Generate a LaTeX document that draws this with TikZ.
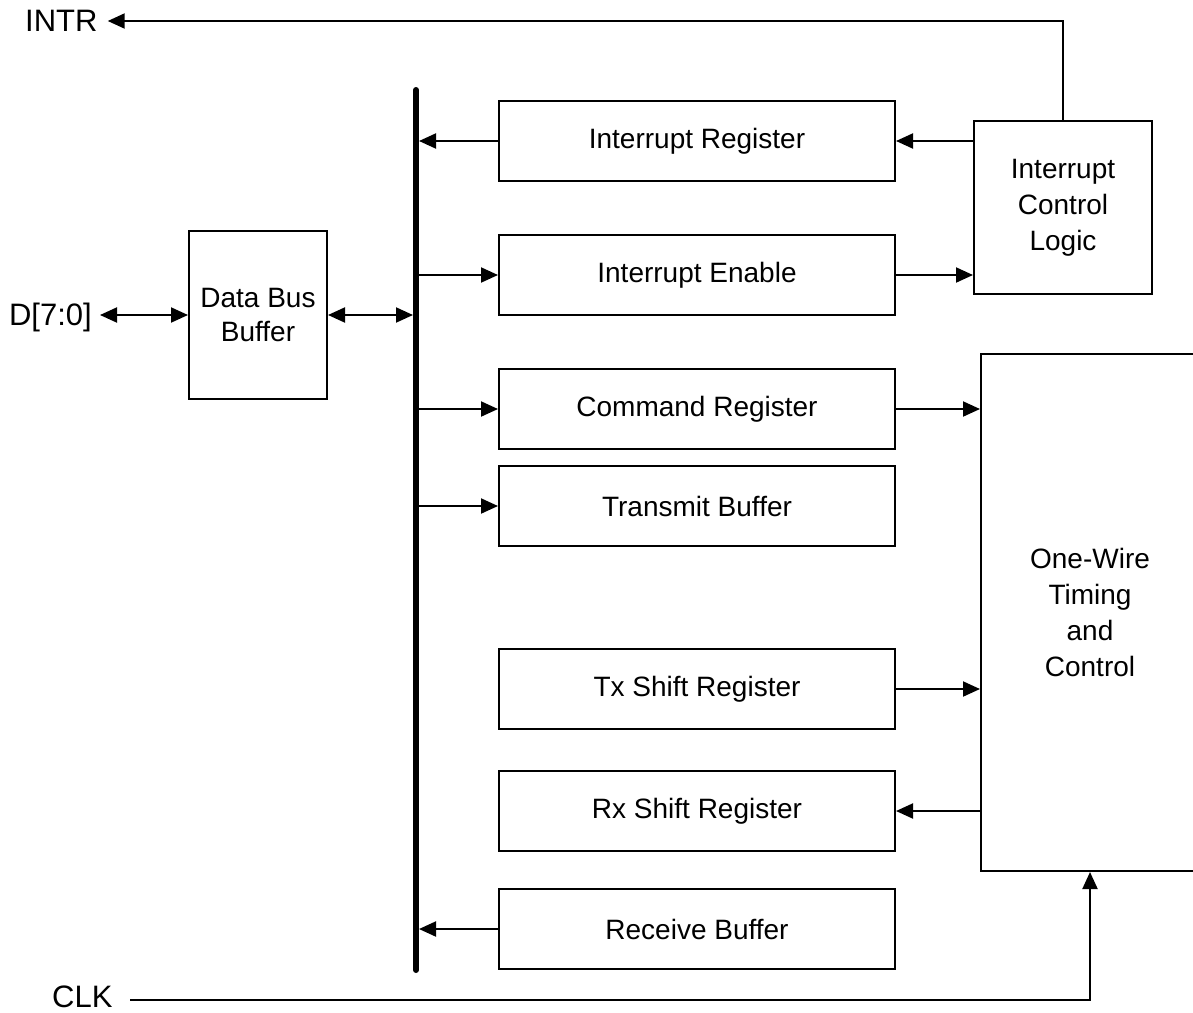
\documentclass[tikz,border=0pt]{standalone}
\usepackage{fontspec}
\setmainfont{Liberation Sans}
\usetikzlibrary{arrows.meta}
\begin{document}
\begin{tikzpicture}[x=1pt,y=-1pt,
  blk/.style={draw, line width=2pt, inner sep=0pt, align=center,
    font=\fontsize{28}{36}\selectfont},
  reg/.style={blk, minimum width=396pt, minimum height=80pt},
  lbl/.style={inner sep=0pt, font=\fontsize{31}{36}\selectfont},
  wire/.style={line width=2pt, -{Triangle[length=17pt,width=15pt]}},
  biwire/.style={line width=2pt,
    {Triangle[length=17pt,width=15pt]}-{Triangle[length=17pt,width=15pt]}},
  bus/.style={line width=6pt, line cap=round}]
\useasboundingbox (0,0) rectangle (1193,1012);

% register column
\node[reg] (ir)  at (697,141) {Interrupt Register};
\node[reg] (ie)  at (697,275) {Interrupt Enable};
\node[reg] (cr)  at (697,409) {Command Register};
\node[reg] (tb)  at (697,506) {Transmit Buffer};
\node[reg] (txs) at (697,689) {Tx Shift Register};
\node[reg] (rxs) at (697,811) {Rx Shift Register};
\node[reg] (rb)  at (697,929) {Receive Buffer};

% control blocks
\node[blk, minimum width=178pt, minimum height=173pt] (icl) at (1063,207.5)
  {Interrupt\\Control\\Logic};
\node[blk, minimum width=218pt, minimum height=517pt] (ow) at (1090,612.5)
  {One-Wire\\Timing\\and\\Control};
\node[blk, minimum width=138pt, minimum height=168pt,
  font=\fontsize{28}{34}\selectfont] (dbb) at (258,315) {Data Bus\\Buffer};

% external signals
\node[lbl, anchor=east] (d) at (92,317) {D[7:0]};
\node[lbl, anchor=west] (intr) at (25,21) {INTR};
\node[lbl, anchor=west] (clk) at (52,997) {CLK};

% internal data bus
\coordinate (bustop) at (416,90);
\coordinate (busbot) at (416,970);
\coordinate (busL) at (413,0);
\coordinate (busR) at (419,0);
\coordinate (busC) at (416,0);
\draw[bus] (bustop) -- (busbot);

% bus connections
\draw[biwire] ([xshift=8pt]d.east |- dbb.west) -- (dbb.west);
\draw[biwire] (dbb.east) -- (dbb.east -| busL);
\draw[wire] (ir.west) -- (ir.west -| busR);
\draw[wire] (ie.west -| busC) -- (ie.west);
\draw[wire] (cr.west -| busC) -- (cr.west);
\draw[wire] (tb.west -| busC) -- (tb.west);
\draw[wire] (rb.west) -- (rb.west -| busR);

% interrupt logic
\draw[wire] (icl.north) |- ([xshift=10pt]intr.east);
\draw[wire] (icl.west |- ir.east) -- (ir.east);
\draw[wire] (ie.east) -- (ie.east -| icl.west);

% one-wire timing connections
\draw[wire] (cr.east) -- (cr.east -| ow.west);
\draw[wire] (txs.east) -- (txs.east -| ow.west);
\draw[wire] (ow.west |- rxs.east) -- (rxs.east);
\coordinate (clkline) at (130,1000);
\draw[wire] (clkline) -| (ow.south);
\end{tikzpicture}
\end{document}
